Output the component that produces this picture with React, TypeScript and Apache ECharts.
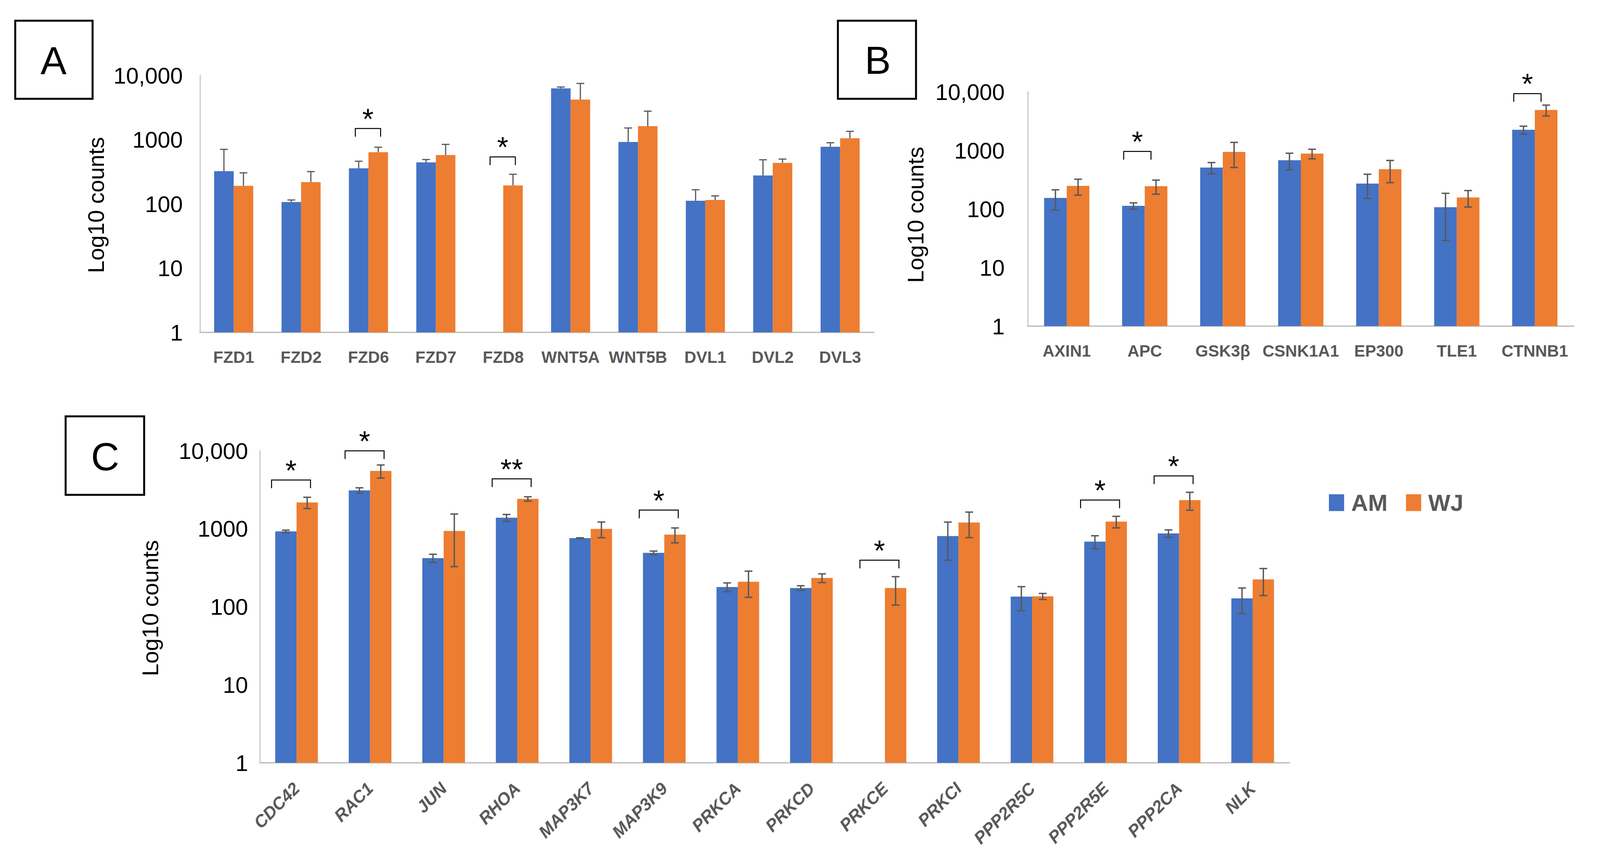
import React, { useEffect, useRef } from "react";
import * as echarts from "echarts";

// ---------- data ----------
const catsA = ["FZD1", "FZD2", "FZD6", "FZD7", "FZD8", "WNT5A", "WNT5B", "DVL1", "DVL2", "DVL3"];
const amA = [323, 107, 358, 442, null, 6270, 918, 112, 277, 775];
const amErrA = [383, 8, 103, 48, null, 320, 599, 54, 209, 120];
const wjA = [191, 218, 637, 575, 194, 4205, 1623, 115, 435, 1052];
const wjErrA = [113, 100, 125, 269, 95, 3285, 1150, 18, 63, 294];
const bracketCatsA = ["FZD6", "FZD8"];
const bracketLevelsA = [1490, 538];
const bracketLabelsA = ["*", "*"];

const catsB = ["AXIN1", "APC", "GSK3β", "CSNK1A1", "EP300", "TLE1", "CTNNB1"];
const amB = [154, 113, 509, 679, 271, 107, 2246];
const amErrB = [58, 14, 110, 215, 120, 78, 340];
const wjB = [247, 245, 939, 881, 477, 157, 4896];
const wjErrB = [75, 66, 430, 163, 196, 49, 1030];
const bracketCatsB = ["APC", "CTNNB1"];
const bracketLevelsB = [957, 9290];
const bracketLabelsB = ["*", "*"];

const catsC = ["CDC42", "RAC1", "JUN", "RHOA", "MAP3K7", "MAP3K9", "PRKCA", "PRKCD", "PRKCE", "PRKCI", "PPP2R5C", "PPP2R5E", "PPP2CA", "NLK"];
const amC = [926, 3105, 420, 1383, 758, 491, 179, 174, null, 806, 135, 683, 871, 128];
const amErrC = [33, 243, 51, 140, 8, 26, 23, 12, null, 411, 46, 130, 95, 46];
const wjC = [2173, 5513, 935, 2412, 993, 841, 209, 234, 174, 1202, 136, 1234, 2329, 224];
const wjErrC = [357, 1050, 608, 157, 227, 182, 77, 30, 69, 432, 12, 208, 602, 85];
const bracketCatsC = ["CDC42", "RAC1", "RHOA", "MAP3K9", "PRKCE", "PPP2R5E", "PPP2CA"];
const bracketLevelsC = [4210, 9960, 4360, 1733, 395, 2330, 4755];
const bracketLabelsC = ["*", "*", "**", "*", "*", "*", "*"];

const yTicks = [1, 10, 100, 1000, 10000];
const seriesNames = ["AM", "WJ"];

// ---------- styles ----------
const FONT = "Liberation Sans";
const AM_COLOR = "#4472C4";
const WJ_COLOR = "#ED7D31";
const ERR_COLOR = "#595959";
const AXIS_COLOR = "#BFBFBF";
const LABEL_COLOR = "#595959";
const GAP = 0.42;
const CAP = 10;

const grids = [
  { left: 512, top: 193, width: 1725, height: 658 },
  { left: 2631, top: 235, width: 1398, height: 600 },
  { left: 665, top: 1154, width: 2636, height: 799 },
];
const yLabelMargins = [44, 59, 30];
const bracketSpan = [
  [-0.195, 0.18],
  [-0.27, 0.08],
  [-0.34, 0.19],
];

function fmtTick(v: number) {
  const r = Math.round(v);
  if (!yTicks.includes(r)) return "";
  return r >= 10000 ? r.toLocaleString("en-US") : String(r);
}

function errSeries(panel: number, am: any[], amErr: any[], wj: any[], wjErr: any[], plusOnly: boolean, lw: number) {
  const data: any[] = [];
  am.forEach((v, i) => {
    if (v != null) data.push([i, v, amErr[i], -1]);
  });
  wj.forEach((v, i) => {
    if (v != null) data.push([i, v, wjErr[i], 1]);
  });
  return {
    type: "custom",
    xAxisIndex: panel,
    yAxisIndex: panel,
    data,
    encode: { x: 0, y: 1 },
    z: 5,
    silent: true,
    clip: false,
    renderItem: (params: any, api: any) => {
      const cat = api.value(0);
      const v = api.value(1);
      const e = api.value(2);
      const side = api.value(3);
      const bw = api.size([1, 0])[0];
      const barW = (bw * (1 - GAP)) / 2;
      const cx = api.coord([cat, v])[0] + (side * barW) / 2;
      const yTop = api.coord([cat, v + e])[1];
      const yBot = plusOnly ? api.coord([cat, v])[1] : api.coord([cat, Math.max(v - e, 1.0001)])[1];
      const st = { stroke: ERR_COLOR, lineWidth: lw };
      const children: any[] = [
        { type: "line", shape: { x1: cx, y1: yTop, x2: cx, y2: yBot }, style: st },
        { type: "line", shape: { x1: cx - CAP, y1: yTop, x2: cx + CAP, y2: yTop }, style: st },
      ];
      if (!plusOnly) children.push({ type: "line", shape: { x1: cx - CAP, y1: yBot, x2: cx + CAP, y2: yBot }, style: st });
      return { type: "group", children };
    },
  };
}

function bracketSeries(panel: number, cats: string[], bCats: string[], levels: number[], labels: string[]) {
  const data = bCats.map((c, i) => [cats.indexOf(c), levels[i]]);
  const [lf, rf] = bracketSpan[panel];
  return {
    type: "custom",
    xAxisIndex: panel,
    yAxisIndex: panel,
    data,
    encode: { x: 0, y: 1 },
    z: 6,
    silent: true,
    clip: false,
    renderItem: (params: any, api: any) => {
      const p = api.coord([api.value(0), api.value(1)]);
      const bw = api.size([1, 0])[0];
      const l = p[0] + lf * bw;
      const r = p[0] + rf * bw;
      const y = p[1];
      const leg = 21;
      return {
        type: "group",
        children: [
          {
            type: "polyline",
            shape: { points: [[l, y + leg], [l, y], [r, y], [r, y + leg]] },
            style: { stroke: "#000", fill: "none", lineWidth: 2.5 },
          },
          {
            type: "text",
            x: (l + r) / 2,
            y: y - 25,
            style: {
              text: labels[params.dataIndex],
              fontSize: 74,
              fontFamily: FONT,
              fill: "#000",
              align: "center",
              verticalAlign: "middle",
            },
          },
        ],
      };
    },
  };
}

function barSeries(panel: number, name: string, data: any[], color: string) {
  return {
    type: "bar",
    name,
    xAxisIndex: panel,
    yAxisIndex: panel,
    data: data.map((v) => (v == null ? "-" : v)),
    itemStyle: { color },
    barGap: "0%",
    barCategoryGap: GAP * 100 + "%",
    silent: true,
  };
}

function xAxis(panel: number, cats: string[], rotated: boolean) {
  return {
    type: "category",
    gridIndex: panel,
    data: cats,
    axisLine: { show: true, onZero: false, lineStyle: { color: AXIS_COLOR, width: 3.5 } },
    axisTick: { show: false },
    axisLabel: rotated
      ? {
          interval: 0,
          rotate: 45,
          margin: 58,
          fontSize: 44,
          fontWeight: "bold",
          fontStyle: "italic",
          fontFamily: FONT,
          color: LABEL_COLOR,
        }
      : { interval: 0, margin: 42, fontSize: 42, fontWeight: "bold", fontFamily: FONT, color: LABEL_COLOR },
    splitLine: { show: false },
  };
}

function yAxis(panel: number) {
  return {
    type: "log",
    logBase: 10,
    gridIndex: panel,
    min: 1,
    max: 10000,
    axisLine: { show: true, lineStyle: { color: AXIS_COLOR, width: 2.5 } },
    axisTick: { show: false },
    splitLine: { show: false },
    axisLabel: { fontSize: 58, fontFamily: FONT, color: "#000", margin: yLabelMargins[panel], formatter: fmtTick },
  };
}

function boxGraphic(x: number, y: number, w: number, h: number, letter: string, lx: number, ly: number) {
  return [
    { type: "rect", shape: { x, y, width: w, height: h }, style: { fill: "none", stroke: "#000", lineWidth: 5 } },
    {
      type: "text",
      x: lx,
      y: ly,
      style: { text: letter, fontSize: 100, fontFamily: FONT, fill: "#000", align: "center", verticalAlign: "middle" },
    },
  ];
}

function yNameGraphic(x: number, y: number) {
  return {
    type: "text",
    x,
    y,
    rotation: Math.PI / 2,
    style: { text: "Log10 counts", fontSize: 58, fontFamily: FONT, fill: "#000", align: "center", verticalAlign: "middle" },
  };
}

export default function App() {
  const ref = useRef<HTMLDivElement>(null);
  useEffect(() => {
    document.body.style.margin = "0";
    document.body.style.overflow = "hidden";
    const chart = echarts.init(ref.current!, null, { renderer: "svg" });
    const option: any = {
      animation: false,
      backgroundColor: "#fff",
      textStyle: { fontFamily: FONT },
      grid: grids.map((g) => ({ ...g, containLabel: false, outerBoundsMode: "none" })),
      xAxis: [xAxis(0, catsA, false), xAxis(1, catsB, false), xAxis(2, catsC, true)],
      yAxis: [yAxis(0), yAxis(1), yAxis(2)],
      legend: {
        data: seriesNames,
        left: 3397,
        top: 1252,
        itemWidth: 39,
        itemHeight: 43,
        itemGap: 47,
        icon: "rect",
        selectedMode: false,
        textStyle: { fontSize: 60, fontWeight: "bold", color: LABEL_COLOR, fontFamily: FONT, padding: [0, 0, 0, 13] },
      },
      graphic: [
        ...boxGraphic(39, 53, 198, 200, "A", 137, 155),
        ...boxGraphic(2145, 53, 200, 200, "B", 2247, 154),
        ...boxGraphic(168, 1066, 201, 201, "C", 269, 1169),
        yNameGraphic(245, 525),
        yNameGraphic(2343, 550),
        yNameGraphic(384, 1557),
      ],
      series: [
        barSeries(0, seriesNames[0], amA, AM_COLOR),
        barSeries(0, seriesNames[1], wjA, WJ_COLOR),
        barSeries(1, seriesNames[0], amB, AM_COLOR),
        barSeries(1, seriesNames[1], wjB, WJ_COLOR),
        barSeries(2, seriesNames[0], amC, AM_COLOR),
        barSeries(2, seriesNames[1], wjC, WJ_COLOR),
        errSeries(0, amA, amErrA, wjA, wjErrA, true, 3),
        errSeries(1, amB, amErrB, wjB, wjErrB, false, 3.5),
        errSeries(2, amC, amErrC, wjC, wjErrC, false, 3.5),
        bracketSeries(0, catsA, bracketCatsA, bracketLevelsA, bracketLabelsA),
        bracketSeries(1, catsB, bracketCatsB, bracketLevelsB, bracketLabelsB),
        bracketSeries(2, catsC, bracketCatsC, bracketLevelsC, bracketLabelsC),
      ],
    };
    chart.setOption(option);
    return () => chart.dispose();
  }, []);
  return <div ref={ref} style={{ width: 4099, height: 2184 }} />;
}
